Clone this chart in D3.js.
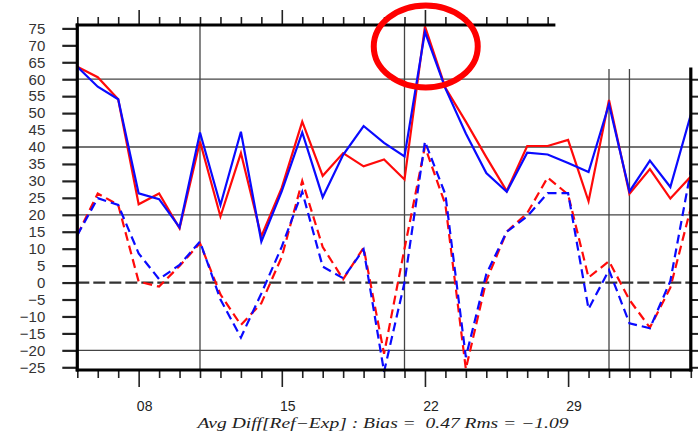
<!DOCTYPE html>
<html>
<head>
<meta charset="utf-8">
<script src="https://cdn.jsdelivr.net/npm/d3@7"></script>
<style>
  html, body { margin: 0; padding: 0; background: #fff; }
  svg { display: block; }
</style>
</head>
<body>
<svg id="chart" width="698" height="443"></svg>
<script>
// ---- data ----
const days = [5,6,7,8,9,10,11,12,13,14,15,16,17,18,19,20,21,22,23,24,25,26,27,28,29,30,31,32,33,34,35];
const redSolid  = [63.7,60.6,54.1,23.1,26.3,16.0,41.6,19.5,38.2,13.6,28.0,47.5,31.5,38.2,34.3,36.3,30.4,75.6,57.5,47.5,37.0,27.0,40.3,40.3,42.1,24.0,53.9,26.2,33.5,24.8,31.3];
const blueSolid = [63.7,57.8,54.1,26.3,24.6,16.3,44.3,22.9,44.5,12.1,27.0,44.3,25.2,37.7,46.2,41.2,37.2,74.0,57.3,44.0,32.3,26.8,38.3,37.8,35.3,32.6,52.6,26.9,36.0,28.2,49.5];
const redDashed = [14.0,26.3,22.9,0.3,-1.2,4.9,11.6,-3.5,-12.5,-6.1,7.6,30.0,10.5,1.0,10.3,-21.0,10.0,40.1,23.0,-25.5,0.5,15.0,20.5,31.0,26.0,1.5,6.3,-5.1,-13.3,-1.5,22.0];
const blueDashed= [14.0,24.9,22.9,8.6,1.0,5.2,12.1,-5.0,-16.2,-3.2,10.6,26.8,4.7,1.3,9.8,-26.3,0.0,41.6,26.0,-22.0,2.5,15.0,19.5,26.4,26.4,-7.8,3.7,-12.0,-13.5,0.5,33.0];
const yTicks = [-25,-20,-15,-10,-5,0,5,10,15,20,25,30,35,40,45,50,55,60,65,70,75];
const majorDays = [8,15,22,29];
const majorLabels = ["08","15","22","29"];
const gridValues = [60,40,20,-20];
const gridDaysFull = [11,21];
const gridDaysPartial = [31,32];
const titleText = "Avg Diff[Ref\u2212Exp] : Bias =  0.47 Rms = \u22121.09";

// ---- scales ----
const svg = d3.select("#chart");
const x = d3.scaleLinear().domain([5,35]).range([77.3,690.8]);
const y = d3.scaleLinear().domain([-25.8,76]).range([370,25]);
const rightTop = 63; // top of right axis / partial gridlines (value)
const topAxisEndDay = 28.3;

// ---- gridlines ----
const grid = svg.append("g");
grid.selectAll("line.h").data(gridValues).enter().append("line")
  .attr("x1", x(5)).attr("x2", x(35))
  .attr("y1", d => y(d)).attr("y2", d => y(d))
  .attr("stroke", "#444").attr("stroke-width", 1.3);
grid.selectAll("line.vf").data(gridDaysFull).enter().append("line")
  .attr("x1", d => x(d)).attr("x2", d => x(d))
  .attr("y1", y(76)).attr("y2", y(-25.8))
  .attr("stroke", "#444").attr("stroke-width", 1.3);
grid.selectAll("line.vp").data(gridDaysPartial).enter().append("line")
  .attr("x1", d => x(d)).attr("x2", d => x(d))
  .attr("y1", y(rightTop)).attr("y2", y(-25.8))
  .attr("stroke", "#444").attr("stroke-width", 1.3);
grid.append("line")
  .attr("x1", x(5)).attr("x2", x(35))
  .attr("y1", y(0)).attr("y2", y(0))
  .attr("stroke", "#333").attr("stroke-width", 2.2)
  .attr("stroke-dasharray", "12,4");

// ---- series ----
const line = d3.line().x((d,i) => x(days[i])).y(d => y(d));
const series = [
  {v: redDashed,  c: "#ff0a0a", dash: "9,5"},
  {v: blueDashed, c: "#0a0aff", dash: "9,5"},
  {v: redSolid,   c: "#ff0a0a", dash: null},
  {v: blueSolid,  c: "#0a0aff", dash: null}
];
series.forEach(s => {
  svg.append("path").datum(s.v)
    .attr("d", line)
    .attr("fill", "none")
    .attr("stroke", s.c)
    .attr("stroke-width", 2.2)
    .attr("stroke-linejoin", "miter")
    .attr("stroke-dasharray", s.dash);
});

// ---- axes ----
const font = "'Liberation Sans', Arial, Helvetica, sans-serif";

// left axis
const gl = svg.append("g").attr("transform", `translate(${x(5)},0)`)
  .call(d3.axisLeft(y).tickValues(yTicks).tickSize(15).tickPadding(17).tickSizeOuter(0));
gl.select(".domain").remove();
gl.selectAll(".tick line").attr("stroke", "#222").attr("stroke-width", 2.2);
gl.selectAll(".tick text").attr("font-family", font).attr("font-size", 15).attr("fill", "#333");

// bottom axis
const gb = svg.append("g").attr("transform", `translate(0,${y(-25.8)})`)
  .call(d3.axisBottom(x).tickValues(days).tickSize(8).tickFormat("").tickSizeOuter(0));
gb.select(".domain").remove();
gb.selectAll(".tick line").attr("stroke", "#222").attr("stroke-width", 1.6)
  .attr("y2", d => majorDays.includes(d) ? 17 : 8);
svg.append("g").selectAll("text").data(majorDays).enter().append("text")
  .attr("x", d => x(d) + 6).attr("y", 411)
  .attr("text-anchor", "middle")
  .attr("font-family", font).attr("font-size", 14).attr("fill", "#222")
  .text((d,i) => majorLabels[i]);

// top axis (partial)
const topDays = days.filter(d => d <= topAxisEndDay);
const gt = svg.append("g").attr("transform", `translate(0,${y(76)})`)
  .call(d3.axisTop(x).tickValues(topDays).tickSize(8).tickFormat("").tickSizeOuter(0));
gt.select(".domain").remove();
gt.selectAll(".tick line").attr("stroke", "#222").attr("stroke-width", 1.6)
  .attr("y2", d => majorDays.includes(d) ? -15 : -8);

// right axis (partial)
const rightTicks = yTicks.filter(v => v <= rightTop);
const gr = svg.append("g").attr("transform", `translate(${x(35)},0)`)
  .call(d3.axisRight(y).tickValues(rightTicks).tickSize(9).tickFormat("").tickSizeOuter(0));
gr.select(".domain").remove();
gr.selectAll(".tick line").attr("stroke", "#222").attr("stroke-width", 2);

// axis frame lines
const frame = svg.append("g").attr("stroke", "#000").attr("stroke-width", 3.2).attr("stroke-linecap", "square");
frame.append("line").attr("x1", x(5)).attr("x2", x(5)).attr("y1", y(76)).attr("y2", y(-25.8));
frame.append("line").attr("x1", x(5)).attr("x2", x(35)).attr("y1", y(-25.8)).attr("y2", y(-25.8));
frame.append("line").attr("x1", x(5)).attr("x2", x(topAxisEndDay)).attr("y1", y(76)).attr("y2", y(76));
frame.append("line").attr("x1", x(35)).attr("x2", x(35)).attr("y1", y(rightTop)).attr("y2", y(-25.8));

// title
svg.append("text")
  .attr("x", 383).attr("y", 428)
  .attr("text-anchor", "middle")
  .attr("font-family", "'Liberation Serif', 'Times New Roman', serif")
  .attr("font-style", "italic")
  .attr("font-size", 14)
  .attr("fill", "#222")
  .attr("textLength", 371)
  .attr("lengthAdjust", "spacingAndGlyphs")
  .style("white-space", "pre")
  .text(titleText);

// annotation ellipse around the peak
const peakIdx = days.indexOf(22);
svg.append("ellipse")
  .attr("cx", x(days[peakIdx]) + 0.8)
  .attr("cy", 46.4)
  .attr("rx", 52).attr("ry", 41)
  .attr("fill", "none")
  .attr("stroke", "#f00")
  .attr("stroke-width", 6);
</script>
</body>
</html>
